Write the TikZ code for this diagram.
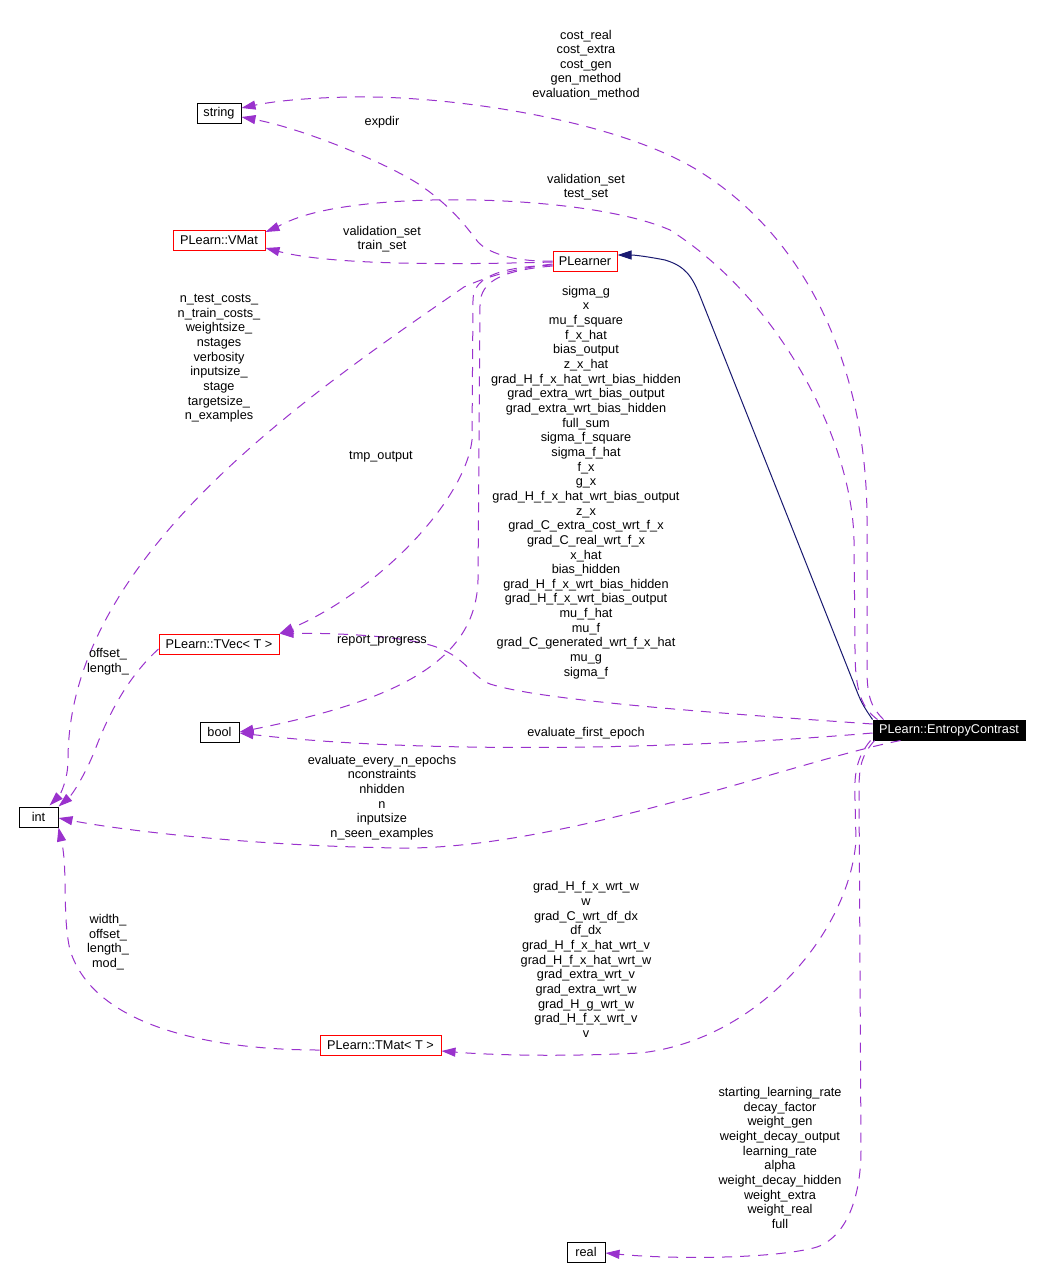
\documentclass[tikz,border=0pt]{standalone}
\usepackage{fontspec}
\setmainfont{Liberation Sans}
\usetikzlibrary{arrows.meta,calc}
\definecolor{edgepurple}{HTML}{9A32CD}
\definecolor{inhblue}{HTML}{191970}
\begin{document}
\begin{tikzpicture}[x=1pt,y=-1pt,
  every node/.style={font=\fontsize{12.7}{14.65}\selectfont},
  cls/.style={draw=black,line width=1pt,minimum height=20pt,inner xsep=3pt,inner ysep=0pt},
  redcls/.style={cls,draw=red},
  focus/.style={cls,fill=black,text=white,draw=black},
  lbl/.style={align=center,inner sep=0pt},
  use/.style={draw=edgepurple,line width=1pt,dash pattern=on 10pt off 8pt,-{Triangle[length=14pt,width=9pt]}},
  inh/.style={draw=inhblue,line width=1pt,-{Triangle[length=14pt,width=9pt]}}]
\useasboundingbox[fill=white] (0,0) rectangle (1041,1282);

% nodes
\node[cls,minimum width=44pt] (string) at (219,113) {string};
\node[redcls,minimum width=92pt] (VMat) at (219,240) {PLearn::VMat};
\node[redcls,minimum width=64pt] (PLearner) at (585,261) {PLearner};
\node[redcls,minimum width=120pt] (TVec) at (219,644) {PLearn::TVec< T >};
\node[cls,minimum width=39pt] (bool) at (219.5,732) {bool};
\node[focus,minimum width=152pt] (EC) at (949,730) {PLearn::EntropyContrast};
\node[cls,minimum width=39pt] (int) at (38.5,817) {int};
\node[redcls,minimum width=121pt] (TMat) at (380.5,1045) {PLearn::TMat< T >};
\node[cls,minimum width=38pt] (real) at (586,1252) {real};

% inheritance
\draw[inh] (EC.north west) .. controls (866,710) and (862,704) .. (858,694)
  -- (700,296) .. controls (692,276) and (685,266) .. (665,260)
  .. controls (650,257) and (635,255) .. ($(PLearner.east)+(0,-6)$);

% EntropyContrast -> string
\draw[use] ($(EC.north west)+(11,0)$) .. controls (872,708) and (867,698) .. (867,670)
  -- (867,520) .. controls (867,380) and (815,245) .. (702,173)
  .. controls (620,120) and (450,95) .. (350,97)
  .. controls (300,98) and (270,102) .. ($(string.east)+(0,-5)$);
% EntropyContrast -> VMat
\draw[use] ($(EC.north west)+(5,0)$) .. controls (862,708) and (855,692) .. (855,650)
  -- (854,540) .. controls (852,440) and (780,300) .. (670,230)
  .. controls (590,195) and (380,190) .. (300,217)
  .. controls (285,222) and (275,228) .. ($(VMat.east)+(0,-8)$);
% PLearner -> string
\draw[use] (PLearner.west) .. controls (520,262) and (490,255) .. (478,242)
  .. controls (465,225) and (450,205) .. (417,183)
  .. controls (380,160) and (300,128) .. ($(string.east)+(0,4)$);
% PLearner -> VMat
\draw[use] ($(PLearner.west)+(0,1)$) .. controls (450,265) and (330,265) .. ($(VMat.east)+(0,8)$);
% PLearner -> int
\draw[use] ($(PLearner.west)+(0,3)$) .. controls (520,268) and (490,275) .. (464,287)
  .. controls (300,400) and (68,560) .. (68,760)
  .. controls (68,780) and (60,795) .. ($(int.north)+(11,-1)$);
% PLearner -> TVec
\draw[use] ($(PLearner.west)+(0,4)$) .. controls (505,267) and (473,275) .. (473,300)
  -- (472,440) .. controls (465,500) and (380,590) .. (TVec.north east);
% PLearner -> bool
\draw[use] ($(PLearner.west)+(0,5)$) .. controls (505,270) and (480,280) .. (480,305)
  -- (478,580) .. controls (476,660) and (400,700) .. (bool.east);
% EntropyContrast -> TVec
\draw[use] ($(EC.west)+(0,-6)$) .. controls (700,712) and (540,700) .. (490,684)
  .. controls (470,676) and (465,655) .. (430,645)
  .. controls (390,634) and (320,633) .. (TVec.north east);
% EntropyContrast -> bool
\draw[use] ($(EC.west)+(0,3)$) .. controls (650,752) and (400,752) .. ($(bool.east)+(0,1)$);
% EntropyContrast -> int
\draw[use] ($(EC.south west)+(28,0)$) .. controls (800,760) and (560,850) .. (400,848)
  .. controls (250,846) and (120,830) .. ($(int.east)+(0,1)$);
% EntropyContrast -> TMat
\draw[use] ($(EC.south west)+(-2,0)$) .. controls (856,758) and (854,775) .. (855,800)
  -- (856,840) .. controls (850,930) and (760,1040) .. (640,1053)
  .. controls (560,1057) and (490,1055) .. ($(TMat.east)+(0,6)$);
% EntropyContrast -> real
\draw[use] ($(EC.south west)+(2,0)$) .. controls (862,755) and (859,765) .. (859,790)
  -- (861,1150) .. controls (861,1190) and (850,1235) .. (817,1247)
  .. controls (780,1258) and (680,1260) .. ($(real.east)+(0,1)$);
% TVec -> int
\draw[use] ($(TVec.west)+(0,5)$) .. controls (130,675) and (110,710) .. (95,750)
  .. controls (85,775) and (72,795) .. (int.north east);
% TMat -> int
\draw[use] ($(TMat.west)+(0,5)$) .. controls (220,1050) and (95,1030) .. (70,950)
  .. controls (62,915) and (68,870) .. (int.south east);

% labels
\node[lbl] (l1) at (586,65) {cost\_real\\cost\_extra\\cost\_gen\\gen\_method\\evaluation\_method};
\node[lbl] (l2) at (382,122) {expdir};
\node[lbl] (l3) at (586,187) {validation\_set\\test\_set};
\node[lbl] (l4) at (382,239) {validation\_set\\train\_set};
\node[lbl] (l5) at (219,358.5) {n\_test\_costs\_\\n\_train\_costs\_\\weightsize\_\\nstages\\verbosity\\inputsize\_\\stage\\targetsize\_\\n\_examples};
\node[lbl] (l6) at (381,457) {tmp\_output};
\node[lbl] (l7) at (586,482.5) {sigma\_g\\x\\mu\_f\_square\\f\_x\_hat\\bias\_output\\z\_x\_hat\\grad\_H\_f\_x\_hat\_wrt\_bias\_hidden\\grad\_extra\_wrt\_bias\_output\\grad\_extra\_wrt\_bias\_hidden\\full\_sum\\sigma\_f\_square\\sigma\_f\_hat\\f\_x\\g\_x\\grad\_H\_f\_x\_hat\_wrt\_bias\_output\\z\_x\\grad\_C\_extra\_cost\_wrt\_f\_x\\grad\_C\_real\_wrt\_f\_x\\x\_hat\\bias\_hidden\\grad\_H\_f\_x\_wrt\_bias\_hidden\\grad\_H\_f\_x\_wrt\_bias\_output\\mu\_f\_hat\\mu\_f\\grad\_C\_generated\_wrt\_f\_x\_hat\\mu\_g\\sigma\_f};
\node[lbl] (l8) at (382,641) {report\_progress};
\node[lbl] (l9) at (108,661.5) {offset\_\\length\_};
\node[lbl] (l10) at (586,733) {evaluate\_first\_epoch};
\node[lbl] (l11) at (382,797.5) {evaluate\_every\_n\_epochs\\nconstraints\\nhidden\\n\\inputsize\\n\_seen\_examples};
\node[lbl] (l12) at (108,942) {width\_\\offset\_\\length\_\\mod\_};
\node[lbl] (l13) at (586,959.5) {grad\_H\_f\_x\_wrt\_w\\w\\grad\_C\_wrt\_df\_dx\\df\_dx\\grad\_H\_f\_x\_hat\_wrt\_v\\grad\_H\_f\_x\_hat\_wrt\_w\\grad\_extra\_wrt\_v\\grad\_extra\_wrt\_w\\grad\_H\_g\_wrt\_w\\grad\_H\_f\_x\_wrt\_v\\v};
\node[lbl] (l14) at (780,1158) {starting\_learning\_rate\\decay\_factor\\weight\_gen\\weight\_decay\_output\\learning\_rate\\alpha\\weight\_decay\_hidden\\weight\_extra\\weight\_real\\full};
\end{tikzpicture}
\end{document}
